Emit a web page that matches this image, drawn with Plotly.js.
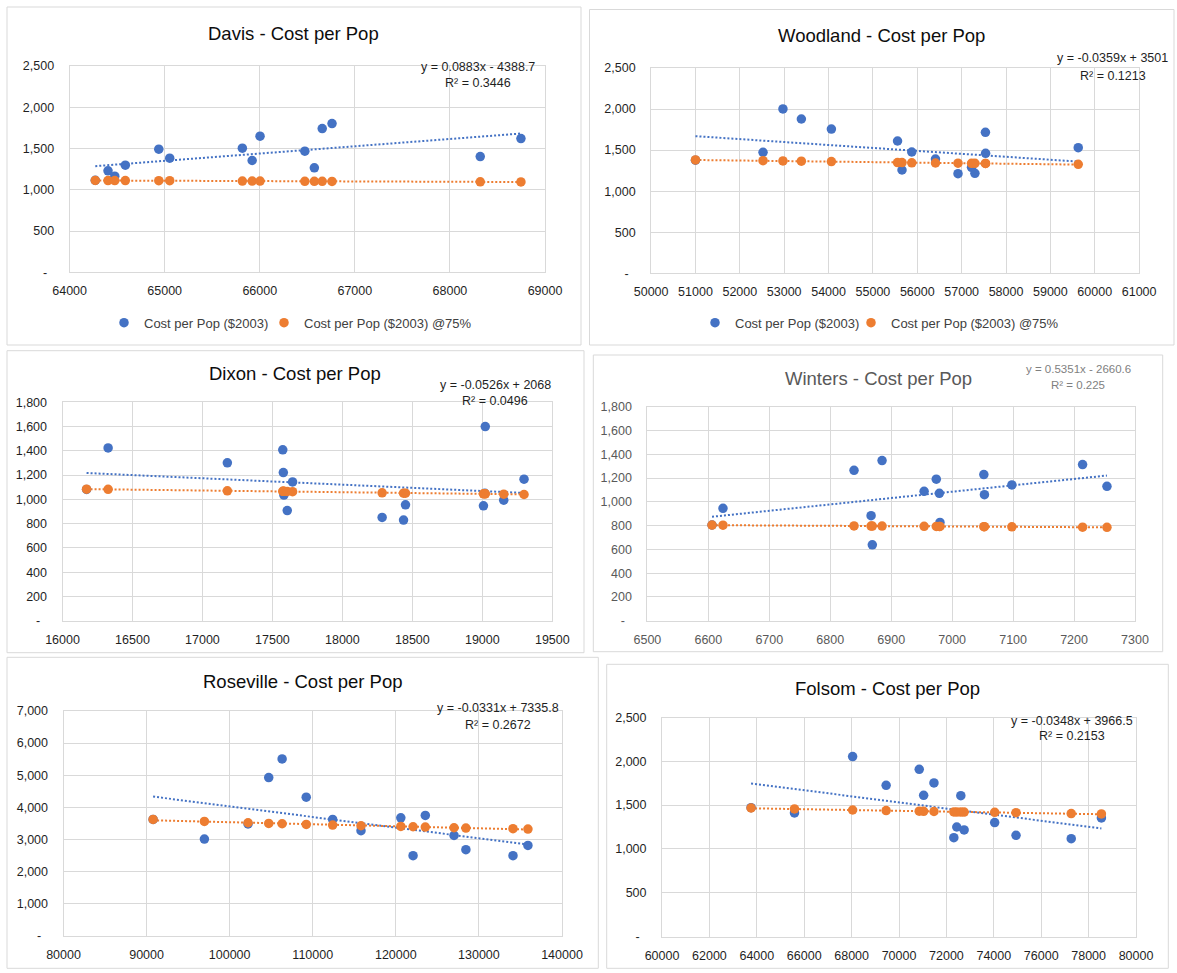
<!DOCTYPE html>
<html>
<head>
<meta charset="utf-8">
<script src="https://cdn.plot.ly/plotly-3.0.1.min.js"></script>
<style>html,body{margin:0;padding:0;background:#fff;}#chart{width:1177px;height:973px;}</style>
</head>
<body>
<div id="chart"></div>
<script>
// ---------------- DATA ----------------
const seriesNames = ['Cost per Pop ($2003)', 'Cost per Pop ($2003) @75%'];
const chartTitles = ['Davis - Cost per Pop', 'Woodland - Cost per Pop', 'Dixon - Cost per Pop',
                     'Winters - Cost per Pop', 'Roseville - Cost per Pop', 'Folsom - Cost per Pop'];

const davisPop  = [64270, 64404, 64475, 64586, 64938, 65053, 65817, 65920, 66003, 66474, 66574, 66657, 66760, 68319, 68747];
const davisCost = [1115, 1230, 1165, 1298, 1492, 1383, 1504, 1355, 1649, 1468, 1266, 1742, 1802, 1403, 1621];
const davis75   = [1113, 1112, 1112, 1111, 1110, 1110, 1106, 1106, 1105, 1103, 1102, 1102, 1101, 1097, 1095];

const woodPop   = [51000, 52523, 52972, 53387, 54064, 55555, 55656, 55876, 56410, 56918, 57223, 57299, 57536, 57540, 59628];
const woodCost  = [1378, 1473, 2001, 1879, 1757, 1611, 1258, 1477, 1392, 1213, 1290, 1218, 1717, 1461, 1530];
const wood75    = [1380, 1372, 1368, 1365, 1360, 1348, 1348, 1346, 1343, 1341, 1339, 1339, 1338, 1338, 1327];

const dixonPop  = [16172, 16326, 17178, 17574, 17578, 17582, 17606, 17644, 18284, 18437, 18451, 19008, 19018, 19021, 19153, 19298];
const dixonCost = [1082, 1424, 1301, 1408, 1221, 1035, 908, 1144, 851, 829, 955, 947, 1050, 1600, 993, 1166];
const dixon75   = [1084, 1083, 1070, 1066, 1066, 1066, 1065, 1063, 1054, 1051, 1051, 1046, 1046, 1046, 1043, 1040];

const wintPop   = [6606, 6624, 6839, 6867, 6869, 6885, 6954, 6974, 6979, 6980, 7052, 7053, 7098, 7214, 7254];
const wintCost  = [805, 945, 1265, 883, 638, 1347, 1088, 1190, 1071, 827, 1229, 1060, 1142, 1313, 1130];
const wint75    = [804, 803, 797, 796, 796, 796, 794, 793, 793, 793, 791, 791, 790, 787, 785];

const rosePop   = [90784, 96959, 102212, 104700, 106313, 109217, 112396, 115806, 120599, 122074, 123548, 127005, 128433, 134101, 135899];
const roseCost  = [3620, 3007, 3480, 4926, 5507, 4314, 3619, 3267, 3671, 2489, 3744, 3121, 2676, 2489, 2810];
const rose75    = [3619, 3557, 3516, 3495, 3484, 3464, 3443, 3422, 3401, 3391, 3381, 3360, 3350, 3329, 3318];

const folsPop   = [63758, 65590, 68043, 69457, 70854, 71040, 71475, 72314, 72438, 72609, 72748, 74037, 74938, 77267, 78540];
const folsCost  = [1470, 1410, 2054, 1726, 1909, 1612, 1753, 1128, 1250, 1608, 1216, 1300, 1155, 1117, 1353];
const fols75    = [1467, 1456, 1444, 1437, 1430, 1429, 1427, 1422, 1421, 1421, 1420, 1417, 1413, 1403, 1399];

// trendline equations printed on the charts (blue series)
const trendSlope     = [0.0883, -0.0359, -0.0526, 0.5351, -0.0331, -0.0348];
const trendIntercept = [-4388.7, 3501, 2068, -2660.6, 7335.8, 3966.5];
const eqText = ['y = 0.0883x - 4388.7', 'y = -0.0359x + 3501', 'y = -0.0526x + 2068',
                'y = 0.5351x - 2660.6', 'y = -0.0331x + 7335.8', 'y = -0.0348x + 3966.5'];
const r2Text = ['R\u00b2 = 0.3446', 'R\u00b2 = 0.1213', 'R\u00b2 = 0.0496',
                'R\u00b2 = 0.225', 'R\u00b2 = 0.2672', 'R\u00b2 = 0.2153'];

// axis ticks
const yTicks2500 = [0, 500, 1000, 1500, 2000, 2500];
const yText2500  = ['-\u00a0\u00a0', '500', '1,000', '1,500', '2,000', '2,500'];
const yTicks1800 = [0, 200, 400, 600, 800, 1000, 1200, 1400, 1600, 1800];
const yText1800  = ['-\u00a0\u00a0', '200', '400', '600', '800', '1,000', '1,200', '1,400', '1,600', '1,800'];
const yTicks7000 = [0, 1000, 2000, 3000, 4000, 5000, 6000, 7000];
const yText7000  = ['-\u00a0\u00a0', '1,000', '2,000', '3,000', '4,000', '5,000', '6,000', '7,000'];
const xRanges = [[64000, 69000], [50000, 61000], [16000, 19500], [6500, 7300], [80000, 140000], [60000, 80000]];
const xSteps  = [1000, 1000, 500, 100, 10000, 2000];

// ---------------- LAYOUT GEOMETRY (pixels) ----------------
const W = 1177, H = 973;
const BLUE = '#4472C4', ORANGE = '#ED7D31';
const FONT = 'Liberation Sans, Arial, sans-serif';
const px = v => v / W;
const py = v => 1 - v / H;

const panels = [
  {pop: davisPop, cost: davisCost, c75: davis75, yt: yTicks2500, ytx: yText2500,
   plot: [69.6, 545, 66, 272.3], box: [7, 7, 581, 345], title: [293.5, 33.5], eq: [477.7, 66.7, 83.3],
   legends: ['legend', 'legend3'], legX: [104, 264], dark: true},
  {pop: woodPop, cost: woodCost, c75: wood75, yt: yTicks2500, ytx: yText2500,
   plot: [651.1, 1139.1, 68, 273.3], box: [589.5, 9.5, 1174, 345], title: [881.6, 35], eq: [1112.8, 57.7, 75.7],
   legends: ['legend2', 'legend4'], legX: [695, 851], dark: true},
  {pop: dixonPop, cost: dixonCost, c75: dixon75, yt: yTicks1800, ytx: yText1800,
   plot: [62.5, 552.3, 402.3, 620.7], box: [7, 350.7, 584, 652.7], title: [295.4, 373.3], eq: [495.2, 385, 401], dark: true},
  {pop: wintPop, cost: wintCost, c75: wint75, yt: yTicks1800, ytx: yText1800,
   plot: [647.4, 1135, 406.7, 620.7], box: [593.3, 355, 1162.7, 651.7], title: [878, 378], eq: [1078, 369.3, 385], dark: false},
  {pop: rosePop, cost: roseCost, c75: rose75, yt: yTicks7000, ytx: yText7000,
   plot: [63.5, 562, 711, 935.5], box: [7, 657.3, 598.3, 968.3], title: [302.3, 681.7], eq: [498.4, 708.3, 725], dark: true},
  {pop: folsPop, cost: folsCost, c75: fols75, yt: yTicks2500, ytx: yText2500,
   plot: [662, 1136, 717.5, 936.5], box: [606.7, 664.3, 1168.3, 968.3], title: [887.2, 688.3], eq: [1072, 720.7, 736], dark: true}
];

function linReg(xs, ys) {
  const n = xs.length;
  let sx = 0, sy = 0, sxx = 0, sxy = 0;
  for (let i = 0; i < n; i++) { sx += xs[i]; sy += ys[i]; sxx += xs[i] * xs[i]; sxy += xs[i] * ys[i]; }
  const m = (n * sxy - sx * sy) / (n * sxx - sx * sx);
  return [m, (sy - m * sx) / n];
}

const traces = [];
const layout = {
  width: W, height: H, margin: {l: 0, r: 0, t: 0, b: 0},
  paper_bgcolor: '#ffffff', plot_bgcolor: '#ffffff',
  font: {family: FONT, color: '#404040'},
  showlegend: true, hovermode: false,
  shapes: [], annotations: []
};

const legendCommon = {orientation: 'h', xanchor: 'left', yanchor: 'middle', itemgap: 0,
  bgcolor: 'rgba(0,0,0,0)', borderwidth: 0, font: {family: FONT, size: 13, color: '#404040'},
  itemclick: false, itemdoubleclick: false};

panels.forEach((p, i) => {
  const k = i === 0 ? '' : String(i + 1);
  const xa = 'x' + k, ya = 'y' + k;
  const tickColor = p.dark ? '#1f1f1f' : '#595959';
  const xmin = Math.min(...p.pop), xmax = Math.max(...p.pop);
  const lr = linReg(p.pop, p.c75);

  // trendlines (drawn beneath the markers)
  traces.push({type: 'scatter', mode: 'lines', x: [xmin, xmax],
    y: [trendSlope[i] * xmin + trendIntercept[i], trendSlope[i] * xmax + trendIntercept[i]],
    xaxis: xa, yaxis: ya, showlegend: false, line: {color: BLUE, width: 2, dash: '2px,2px'}});
  traces.push({type: 'scatter', mode: 'lines', x: [xmin, xmax],
    y: [lr[0] * xmin + lr[1], lr[0] * xmax + lr[1]],
    xaxis: xa, yaxis: ya, showlegend: false, line: {color: ORANGE, width: 2, dash: '2px,2px'}});

  const hasLeg = !!p.legends;
  traces.push({type: 'scatter', mode: 'markers', name: seriesNames[0], x: p.pop, y: p.cost,
    xaxis: xa, yaxis: ya, marker: {color: BLUE, size: 9.5},
    showlegend: hasLeg, legend: hasLeg ? p.legends[0] : 'legend'});
  traces.push({type: 'scatter', mode: 'markers', name: seriesNames[1], x: p.pop, y: p.c75,
    xaxis: xa, yaxis: ya, marker: {color: ORANGE, size: 9.5},
    showlegend: hasLeg, legend: hasLeg ? p.legends[1] : 'legend'});

  if (hasLeg) {
    layout[p.legends[0]] = Object.assign({}, legendCommon, {x: px(p.legX[0]), y: py(322.7)});
    layout[p.legends[1]] = Object.assign({}, legendCommon, {x: px(p.legX[1]), y: py(322.7)});
  }

  const axCommon = {showgrid: true, gridcolor: '#D9D9D9', gridwidth: 1, zeroline: false,
    showline: true, linecolor: '#D9D9D9', linewidth: 1, mirror: true, ticks: '', fixedrange: true,
    tickfont: {family: FONT, size: 12.5, color: tickColor}};

  layout['xaxis' + k] = Object.assign({}, axCommon, {
    domain: [px(p.plot[0]), px(p.plot[1])], anchor: ya,
    range: xRanges[i], tickmode: 'linear', tick0: xRanges[i][0], dtick: xSteps[i],
    tickformat: 'd', ticklabelstandoff: 7});
  layout['yaxis' + k] = Object.assign({}, axCommon, {
    domain: [py(p.plot[3]), py(p.plot[2])], anchor: xa,
    range: [p.yt[0], p.yt[p.yt.length - 1]], tickmode: 'array', tickvals: p.yt, ticktext: p.ytx,
    ticklabelstandoff: 12});

  // panel border
  layout.shapes.push({type: 'rect', xref: 'paper', yref: 'paper',
    x0: px(p.box[0]), x1: px(p.box[2]), y0: py(p.box[3]), y1: py(p.box[1]),
    line: {color: '#D9D9D9', width: 1}, fillcolor: 'rgba(0,0,0,0)', layer: 'below'});

  // chart title
  layout.annotations.push({xref: 'paper', yref: 'paper', x: px(p.title[0]), y: py(p.title[1]),
    xanchor: 'center', yanchor: 'middle', showarrow: false, text: chartTitles[i],
    font: {family: FONT, size: 18.5, color: p.dark ? '#0d0d0d' : '#595959'}});

  // trendline equation
  const eqColor = p.dark ? '#1f1f1f' : '#7f7f7f';
  const eqSize = p.dark ? 12.5 : 11.5;
  layout.annotations.push({xref: 'paper', yref: 'paper', x: px(p.eq[0]), y: py(p.eq[1]),
    xanchor: 'center', yanchor: 'middle', showarrow: false, text: eqText[i],
    font: {family: FONT, size: eqSize, color: eqColor}});
  layout.annotations.push({xref: 'paper', yref: 'paper', x: px(p.eq[0]), y: py(p.eq[2]),
    xanchor: 'center', yanchor: 'middle', showarrow: false, text: r2Text[i],
    font: {family: FONT, size: eqSize, color: eqColor}});
});

Plotly.newPlot('chart', traces, layout, {staticPlot: true, displayModeBar: false});
</script>
</body>
</html>
